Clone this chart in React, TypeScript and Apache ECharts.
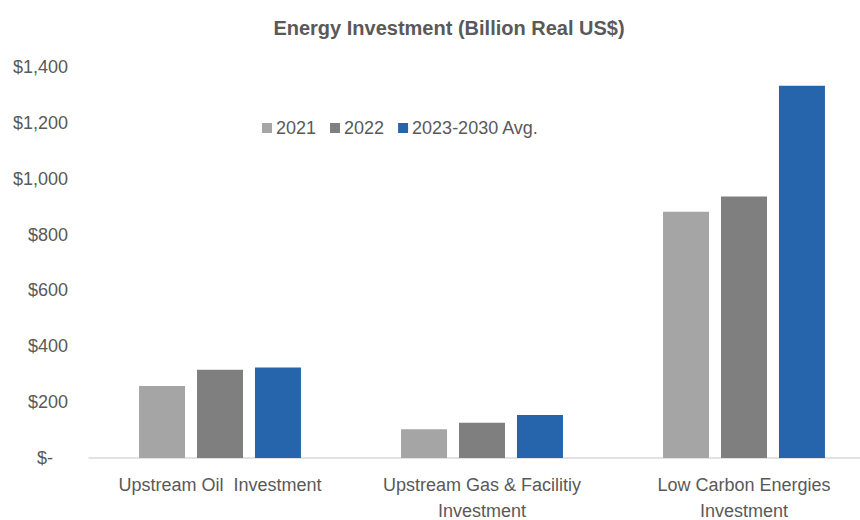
import React, { useEffect, useRef } from "react";
import * as echarts from "echarts";

const categories = ["Upstream Oil  Investment", "Upstream Gas & Facilitiy\nInvestment", "Low Carbon Energies\nInvestment"];
const seriesNames = ["2021", "2022", "2023-2030 Avg."];
const values2021 = [258, 103, 882];
const values2022 = [316, 126, 936];
const valuesAvg = [324, 154, 1333];
const colors = ["#a5a5a5", "#7f7f7f", "#2665ab"];

const FONT = "'Liberation Sans Narrow', 'Arial Narrow', 'Liberation Sans', Arial, sans-serif";
const TEXT = "#595959";

export default function App() {
  const ref = useRef<HTMLDivElement>(null);
  useEffect(() => {
    const chart = echarts.init(ref.current!, null, { renderer: "svg" });
    const data = [values2021, values2022, valuesAvg];
    chart.setOption({
      animation: false,
      backgroundColor: "#ffffff",
      title: {
        text: "Energy Investment (Billion Real US$)",
        left: 444,
        textAlign: "center",
        top: 13,
        textStyle: { fontFamily: FONT, fontSize: 20, fontWeight: "bold", color: TEXT },
      },
      legend: {
        data: seriesNames,
        left: 257,
        top: 114,
        itemWidth: 10,
        itemHeight: 10,
        itemGap: 14,
        icon: "rect",
        textStyle: { fontFamily: FONT, fontSize: 18, color: TEXT, padding: [0, 0, 0, -1] },
      },
      grid: { left: 89, right: -15, top: 67, bottom: 62, containLabel: false, outerBoundsMode: "none" },
      xAxis: {
        type: "category",
        data: categories,
        axisLine: { lineStyle: { color: "#d9d9d9", width: 1.5 } },
        axisTick: { show: false },
        axisLabel: { interval: 0, fontFamily: FONT, fontSize: 18, color: TEXT, lineHeight: 26, margin: 14 },
      },
      yAxis: {
        type: "value",
        min: 0,
        max: 1400,
        interval: 200,
        splitLine: { show: false },
        axisLine: { show: false },
        axisTick: { show: false },
        axisLabel: {
          fontFamily: FONT,
          fontSize: 18,
          color: TEXT,
          margin: 21,
          formatter: (v: number) => (v === 0 ? "$-\u00a0\u00a0\u00a0" : "$" + v.toLocaleString("en-US")),
        },
      },
      series: seriesNames.map((name, i) => ({
        name,
        type: "bar",
        data: data[i],
        barWidth: 46,
        barGap: "26%",
        itemStyle: { color: colors[i] },
      })),
    });
    return () => chart.dispose();
  }, []);
  return <div ref={ref} style={{ width: 860, height: 520, position: "absolute", left: 0, top: 0 }} />;
}
